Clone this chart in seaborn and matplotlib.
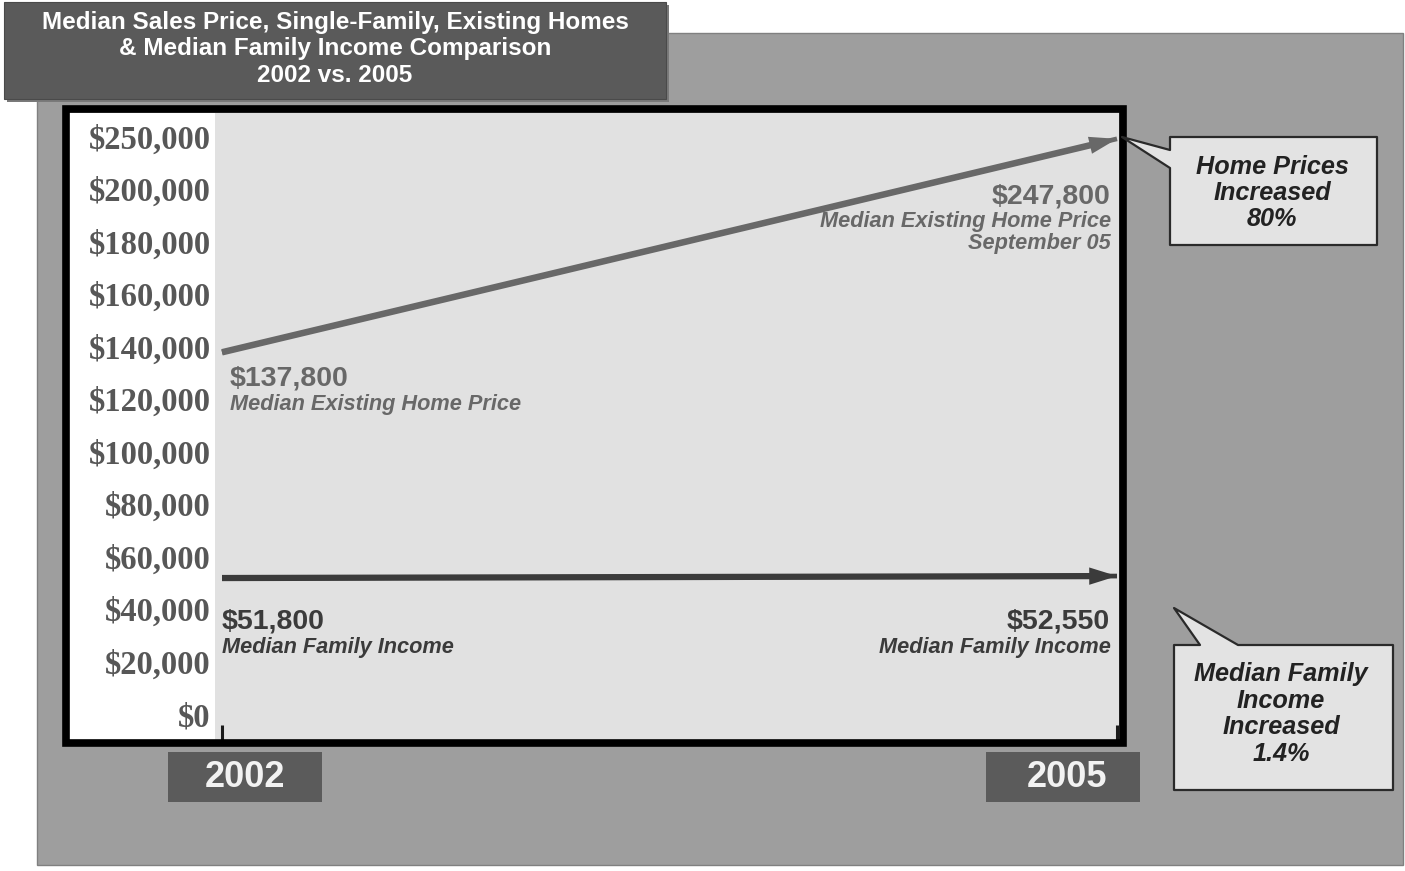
import numpy as np
import matplotlib
matplotlib.use("Agg")
import matplotlib.pyplot as plt
import seaborn as sns
from matplotlib.patches import Rectangle, Polygon, ArrowStyle

# ---------------- data ----------------
years = [2002, 2005]
home_prices = [137800, 247800]
family_income = [51800, 52550]
ytick_values = [0, 20000, 40000, 60000, 80000, 100000, 120000,
                140000, 160000, 180000, 200000, 250000]
ytick_labels = ["$0", "$20,000", "$40,000", "$60,000", "$80,000", "$100,000",
                "$120,000", "$140,000", "$160,000", "$180,000", "$200,000",
                "$250,000"]
year_labels = ["2002", "2005"]
title_text = ("Median Sales Price, Single-Family, Existing Homes\n"
              "& Median Family Income Comparison\n2002 vs. 2005")
home_start_label = ["$137,800", "Median Existing Home Price"]
home_end_label = ["$247,800", "Median Existing Home Price", "September 05"]
income_start_label = ["$51,800", "Median Family Income"]
income_end_label = ["$52,550", "Median Family Income"]
callout_home = "Home Prices\nIncreased\n80%"
callout_income = "Median Family\nIncome\nIncreased\n1.4%"

# ---------------- style ----------------
sns.set_theme(style="white")
plt.rcParams["font.family"] = ["Liberation Sans", "DejaVu Sans"]

W, H = 1405, 871
fig = plt.figure(figsize=(W / 100, H / 100), dpi=100)
fig.patch.set_facecolor("white")


def fx(x):
    return x / W


def fy(y):
    return 1 - y / H


def frect(x0, y0, x1, y1, **kw):
    r = Rectangle((fx(x0), fy(y1)), (x1 - x0) / W, (y1 - y0) / H,
                  transform=fig.transFigure, **kw)
    fig.patches.append(r)
    return r


def fpoly(pts, **kw):
    p = Polygon([(fx(x), fy(y)) for x, y in pts], closed=True,
                transform=fig.transFigure, **kw)
    fig.patches.append(p)
    return p


# background panels
frect(37, 33, 1403, 865, facecolor="#9e9e9e", edgecolor="#808080", lw=1, zorder=-3)
frect(69, 113, 216, 740, facecolor="white", edgecolor="none", zorder=-1)
# title box (with faint shadow)
frect(7, 5, 669, 102, facecolor="#7a7a7a", edgecolor="none", zorder=1.9)
frect(4, 2, 666, 99, facecolor="#5a5a5a", edgecolor="#4a4a4a", lw=0.8, zorder=2)
fig.text(fx(335), fy(49), title_text, ha="center", va="center", color="white",
         fontsize=17.5, fontweight="bold", linespacing=1.2, zorder=5)

# ---------------- axes ----------------
ax = fig.add_axes([fx(215), fy(740), (1119 - 215) / W, (740 - 113) / H])
ax.set_facecolor("#e1e1e1")

HOME_C = "#686868"
INC_C = "#3b3b3b"

sns.lineplot(x=years, y=home_prices, ax=ax, color=HOME_C, linewidth=3.4,
             solid_capstyle="butt", zorder=3)
sns.lineplot(x=years, y=family_income, ax=ax, color=INC_C, linewidth=3.4,
             solid_capstyle="butt", zorder=3)


def fwd(v):
    v = np.asarray(v, dtype=float)
    return np.where(v <= 200000, v / 20000.0, 10 + (v - 200000) / 50000.0)


def inv(p):
    p = np.asarray(p, dtype=float)
    return np.where(p <= 10, p * 20000.0, 200000 + (p - 10) * 50000.0)


ax.set_yscale("function", functions=(fwd, inv))
ax.set_ylim(-9905, 272400)
ax.set_xlim(2001.9765, 2005.0067)

# arrows
for ys, col, tw in [(home_prices, HOME_C, 4.7), (family_income, INC_C, 4.5)]:
    ax.annotate("", xy=(years[1], ys[1]), xytext=(years[0], ys[0]),
                xycoords="data", textcoords="data", annotation_clip=False,
                arrowprops=dict(arrowstyle=ArrowStyle.Simple(head_length=20,
                                                            head_width=12.5,
                                                            tail_width=tw),
                                mutation_scale=1, fc=col, ec="none", lw=0,
                                shrinkA=0, shrinkB=0), zorder=4)

ax.set_yticks(ytick_values)
ax.set_yticklabels(ytick_labels)
for lab in ax.get_yticklabels():
    lab.set_fontfamily(["Liberation Serif", "DejaVu Serif"])
    lab.set_fontweight("bold")
    lab.set_fontsize(23.5)
    lab.set_color("#575757")
ax.tick_params(axis="y", length=0, pad=3)
ax.set_xticks(years)
ax.set_xticklabels([])
ax.tick_params(axis="x", direction="in", length=11, width=2.2, color="#1a1a1a",
               bottom=True)
ax.set_xlabel("")
ax.set_ylabel("")
ax.grid(False)
for s in ax.spines.values():
    s.set_visible(False)
if ax.get_legend():
    ax.get_legend().remove()

# black frame
frect(66, 109, 1123, 743, facecolor="none", edgecolor="black", lw=5.5, zorder=3)

# line labels
VAL_FS = 20.5
SUB_FS = 15.7
fig.text(fx(230), fy(378), home_start_label[0], ha="left", va="center",
         color=HOME_C, fontsize=VAL_FS, fontweight="bold")
fig.text(fx(230), fy(404), home_start_label[1], ha="left", va="center",
         color=HOME_C, fontsize=SUB_FS, fontweight="bold", fontstyle="italic")
fig.text(fx(1110), fy(196), home_end_label[0], ha="right", va="center",
         color=HOME_C, fontsize=VAL_FS, fontweight="bold")
fig.text(fx(1111), fy(221), home_end_label[1], ha="right", va="center",
         color=HOME_C, fontsize=SUB_FS, fontweight="bold", fontstyle="italic")
fig.text(fx(1111), fy(244), home_end_label[2], ha="right", va="center",
         color=HOME_C, fontsize=SUB_FS, fontweight="bold", fontstyle="italic")
fig.text(fx(222), fy(621), income_start_label[0], ha="left", va="center",
         color=INC_C, fontsize=VAL_FS, fontweight="bold")
fig.text(fx(222), fy(647), income_start_label[1], ha="left", va="center",
         color=INC_C, fontsize=SUB_FS, fontweight="bold", fontstyle="italic")
fig.text(fx(1110), fy(621), income_end_label[0], ha="right", va="center",
         color=INC_C, fontsize=VAL_FS, fontweight="bold")
fig.text(fx(1111), fy(647), income_end_label[1], ha="right", va="center",
         color=INC_C, fontsize=SUB_FS, fontweight="bold", fontstyle="italic")

# year boxes
for (x0, x1, tx), lab in zip([(168, 322, 245), (986, 1140, 1067)], year_labels):
    frect(x0, 752, x1, 802, facecolor="#5b5b5b", edgecolor="none", zorder=2)
    fig.text(fx(tx), fy(777), lab, ha="center", va="center", color="#f2f2f2",
             fontsize=26, fontweight="bold", zorder=5)

# callouts
CALL_FS = 18.2
fpoly([(1170, 137), (1377, 137), (1377, 245), (1170, 245), (1170, 168),
       (1122, 137), (1170, 150)],
      facecolor="#e3e3e3", edgecolor="#2a2a2a", lw=1.6, joinstyle="round",
      zorder=4)
fig.text(fx(1272), fy(193), callout_home, ha="center", va="center",
         color="#222222", fontsize=CALL_FS, fontweight="bold", fontstyle="italic",
         linespacing=1.13, zorder=6)
fpoly([(1174, 645), (1200, 645), (1174, 608), (1238, 645), (1393, 645),
       (1393, 790), (1174, 790)],
      facecolor="#e3e3e3", edgecolor="#2a2a2a", lw=1.6, joinstyle="round",
      zorder=4)
fig.text(fx(1281), fy(714), callout_income, ha="center", va="center",
         color="#222222", fontsize=CALL_FS, fontweight="bold", fontstyle="italic",
         linespacing=1.13, zorder=6)

fig.savefig("out.png", dpi=100, facecolor="white")
